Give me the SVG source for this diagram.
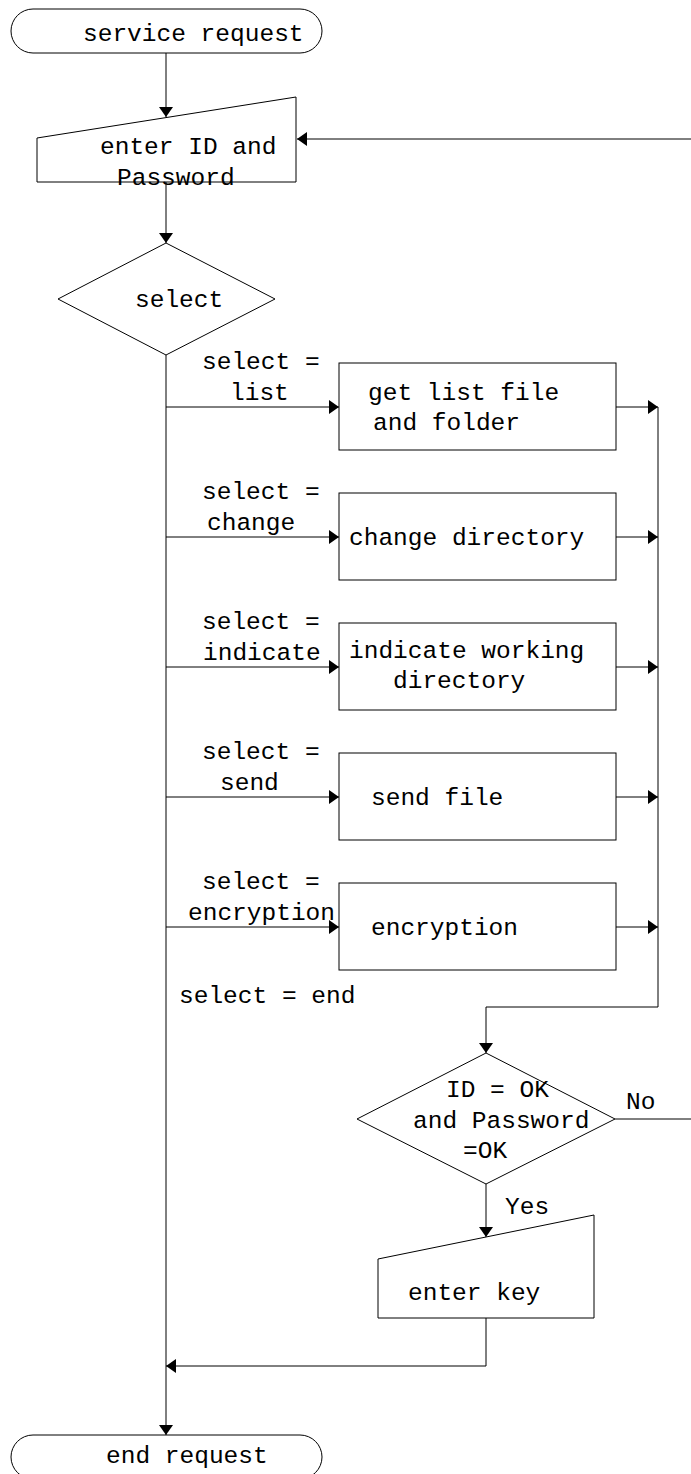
<svg xmlns="http://www.w3.org/2000/svg" width="691" height="1474" viewBox="0 0 691 1474">
  <style>
    .shape { fill: #ffffff; stroke: #000000; stroke-width: 1; }
    .edge { fill: none; stroke: #000000; stroke-width: 1; }
    .arrow { marker-end: url(#head); }
    text { font-family: "Liberation Mono", "Courier New", monospace; font-size: 24.5px; fill: #000000; }
  </style>
  <defs>
    <marker id="head" viewBox="0 0 10 14" refX="10" refY="7" markerWidth="10" markerHeight="14" markerUnits="userSpaceOnUse" orient="auto">
      <path d="M0,0 L10,7 L0,14 Z" fill="#000000"/>
    </marker>
  </defs>

  <!-- connectors -->
  <g id="connectors">
    <line class="edge arrow" x1="166" y1="53" x2="166" y2="117"/>
    <line class="edge arrow" x1="691" y1="139" x2="297" y2="139"/>
    <line class="edge arrow" x1="166" y1="182" x2="166" y2="243"/>
    <line class="edge arrow" x1="166" y1="355" x2="166" y2="1435"/>
    <!-- branches to each action -->
    <line class="edge arrow" x1="166" y1="407" x2="339" y2="407"/>
    <line class="edge arrow" x1="166" y1="537" x2="339" y2="537"/>
    <line class="edge arrow" x1="166" y1="667" x2="339" y2="667"/>
    <line class="edge arrow" x1="166" y1="797" x2="339" y2="797"/>
    <line class="edge arrow" x1="166" y1="927" x2="339" y2="927"/>
    <!-- returns into the collector line -->
    <line class="edge arrow" x1="616" y1="407" x2="658" y2="407"/>
    <line class="edge arrow" x1="616" y1="537" x2="658" y2="537"/>
    <line class="edge arrow" x1="616" y1="667" x2="658" y2="667"/>
    <line class="edge arrow" x1="616" y1="797" x2="658" y2="797"/>
    <line class="edge arrow" x1="616" y1="927" x2="658" y2="927"/>
    <polyline class="edge arrow" points="658,407 658,1007 486,1007 486,1053"/>
    <line class="edge" x1="615" y1="1119" x2="691" y2="1119"/>
    <line class="edge arrow" x1="486" y1="1184" x2="486" y2="1237"/>
    <polyline class="edge arrow" points="486,1318 486,1366 166,1366"/>
    <!-- edge labels -->
    <text x="202" y="369">select =</text>
    <text x="230" y="400">list</text>
    <text x="202" y="499">select =</text>
    <text x="207" y="530">change</text>
    <text x="202" y="629">select =</text>
    <text x="203" y="660">indicate</text>
    <text x="202" y="759">select =</text>
    <text x="220" y="790">send</text>
    <text x="202" y="889">select =</text>
    <text x="188" y="920">encryption</text>
    <text x="179" y="1003">select = end</text>
    <text x="626" y="1109">No</text>
    <text x="505" y="1214">Yes</text>
  </g>

  <g id="start">
    <rect class="shape" x="11" y="9" width="311" height="44" rx="22" ry="22"/>
    <text x="83" y="41">service request</text>
  </g>

  <g id="login-input">
    <polygon class="shape" points="37,138 296,97 296,182 37,182"/>
    <text x="100" y="154">enter ID and</text>
    <text x="117" y="185">Password</text>
  </g>

  <g id="select">
    <polygon class="shape" points="166,243 275,299 166,355 58,299"/>
    <text x="135" y="307">select</text>
  </g>

  <g id="list">
    <rect class="shape" x="339" y="363" width="277" height="87"/>
    <text x="368" y="400">get list file</text>
    <text x="373" y="430">and folder</text>
  </g>

  <g id="change">
    <rect class="shape" x="339" y="493" width="277" height="87"/>
    <text x="349" y="545">change directory</text>
  </g>

  <g id="indicate">
    <rect class="shape" x="339" y="623" width="277" height="87"/>
    <text x="349" y="658">indicate working</text>
    <text x="393" y="688">directory</text>
  </g>

  <g id="send">
    <rect class="shape" x="339" y="753" width="277" height="87"/>
    <text x="371" y="805">send file</text>
  </g>

  <g id="encryption">
    <rect class="shape" x="339" y="883" width="277" height="87"/>
    <text x="371" y="935">encryption</text>
  </g>

  <g id="check">
    <polygon class="shape" points="486,1053 615,1119 486,1184 357,1119"/>
    <text x="446" y="1097">ID = OK</text>
    <text x="413" y="1128">and Password</text>
    <text x="463" y="1158">=OK</text>
  </g>

  <g id="key-input">
    <polygon class="shape" points="378,1259 594,1215 594,1318 378,1318"/>
    <text x="408" y="1300">enter key</text>
  </g>

  <g id="end">
    <rect class="shape" x="11" y="1435" width="311" height="44" rx="22" ry="22"/>
    <text x="106" y="1463">end request</text>
  </g>
</svg>
